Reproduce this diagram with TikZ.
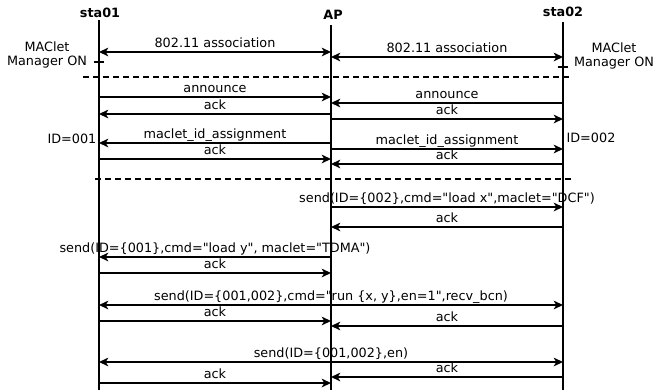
\documentclass[tikz,border=0pt]{standalone}
\usepackage{fontspec}
\setmainfont{DejaVu Sans}[Ligatures=TeXOff]
\usetikzlibrary{arrows.meta}

\begin{document}
\begin{tikzpicture}[x=0.75pt,y=-0.75pt,
  >={Stealth[length=7pt,width=6.5pt,inset=2pt]},
  every node/.style={font=\fontsize{9.6}{10.5}\selectfont},
  head/.style={font=\fontsize{9.6}{10.5}\selectfont\bfseries},
  life/.style={line width=1pt},
  msg/.style={line width=1.3pt},
  lbl/.style={anchor=base,inner sep=0pt,yshift=3.5pt},
  sep/.style={line width=2pt,dash pattern=on 4.5pt off 3pt}]

  \useasboundingbox (0,0) rectangle (654,390);

  \node[head] (sta01) at (100,13) {sta01};
  \node[head] (ap) at (333,15) {AP};
  \node[head] (sta02) at (563,12) {sta02};

  \coordinate (s1) at (99,20);
  \coordinate (a) at (331,25);
  \coordinate (s2) at (563,22);
  \coordinate (bot) at (0,390);

  \draw[life] (s1) -- (s1 |- bot);
  \draw[life] (a) -- (a |- bot);
  \draw[life] (s2) -- (s2 |- bot);

  % message rows
  \foreach \n/\y in {1/52,2/57,3/97,4/103,5/114,6/119,7/143,8/149,9/159,10/164,
      11/207,12/227,13/257,14/273,15/305,16/321,17/326,18/362,19/383,20/377}
    \coordinate (y\n) at (0,\y);

  % setup
  \node[align=center] (mgr1) at (47,55) {MAClet\\Manager ON};
  \node[align=center] (mgr2) at (614,56) {MAClet\\Manager ON};
  \coordinate (t1) at (0,62);
  \coordinate (t2) at (0,67);
  \draw[life] ([xshift=-4pt]s1 |- t1) -- ([xshift=4pt]s1 |- t1);
  \draw[life] ([xshift=-4pt]s2 |- t2) -- ([xshift=4pt]s2 |- t2);

  \draw[msg,<->] (s1 |- y1) -- node[lbl] (m1) {802.11 association} (a |- y1);
  \draw[msg,<->] (a |- y2) -- node[lbl] (m2) {802.11 association} (s2 |- y2);

  \coordinate (d1a) at (83,77);
  \coordinate (d1b) at (573,77);
  \draw[sep] (d1a) -- (d1b);

  % announce
  \draw[msg,->] (s1 |- y3) -- node[lbl] (m3) {announce} (a |- y3);
  \draw[msg,->] (s2 |- y4) -- node[lbl] (m4) {announce} (a |- y4);
  \draw[msg,->] (a |- y5) -- node[lbl] (m5) {ack} (s1 |- y5);
  \draw[msg,->] (a |- y6) -- node[lbl] (m6) {ack} (s2 |- y6);

  % id assignment
  \node (id1) at (72,139) {ID=001};
  \node (id2) at (591,138) {ID=002};
  \draw[msg,->] (a |- y7) -- node[lbl] (m7) {maclet\_id\_assignment} (s1 |- y7);
  \draw[msg,->] (a |- y8) -- node[lbl] (m8) {maclet\_id\_assignment} (s2 |- y8);
  \draw[msg,->] (s1 |- y9) -- node[lbl] (m9) {ack} (a |- y9);
  \draw[msg,->] (s2 |- y10) -- node[lbl] (m10) {ack} (a |- y10);

  \coordinate (d2a) at (95,179);
  \coordinate (d2b) at (573,179);
  \draw[sep] (d2a) -- (d2b);

  % load
  \draw[msg,->] (a |- y11) -- node[lbl] (m11) {send(ID=\{002\},cmd="load x",maclet="DCF")} (s2 |- y11);
  \draw[msg,->] (s2 |- y12) -- node[lbl] (m12) {ack} (a |- y12);
  \draw[msg,->] (a |- y13) -- node[lbl] (m13) {send(ID=\{001\},cmd="load y", maclet="TDMA")} (s1 |- y13);
  \draw[msg,->] (s1 |- y14) -- node[lbl] (m14) {ack} (a |- y14);

  % run
  \draw[msg,<->] (s1 |- y15) -- node[lbl] (m15) {send(ID=\{001,002\},cmd="run \{x, y\},en=1",recv\_bcn)} (s2 |- y15);
  \draw[msg,->] (s1 |- y16) -- node[lbl] (m16) {ack} (a |- y16);
  \draw[msg,->] (s2 |- y17) -- node[lbl] (m17) {ack} (a |- y17);

  \draw[msg,<->] (s1 |- y18) -- node[lbl] (m18) {send(ID=\{001,002\},en)} (s2 |- y18);
  \draw[msg,->] (s1 |- y19) -- node[lbl] (m19) {ack} (a |- y19);
  \draw[msg,->] (s2 |- y20) -- node[lbl] (m20) {ack} (a |- y20);

\end{tikzpicture}
\end{document}
